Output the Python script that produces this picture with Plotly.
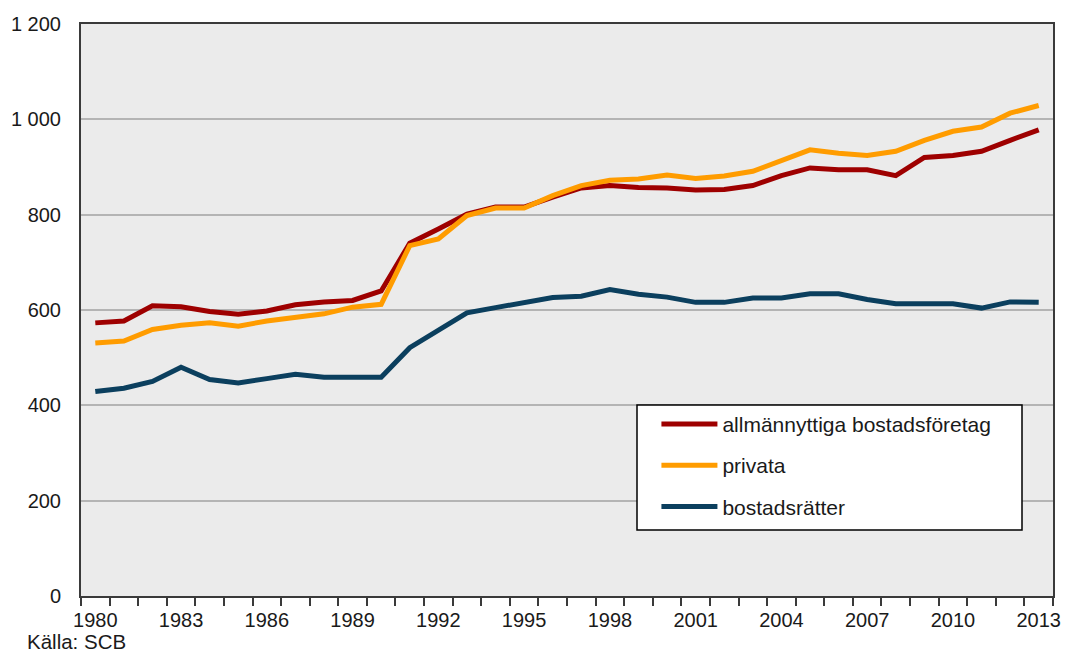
import plotly.graph_objects as go

years = list(range(1980, 2014))
allmannyttiga = [573, 577, 609, 607, 597, 591, 598, 611, 617, 620, 640,
                 740, 770, 801, 816, 816, 837, 856, 861, 857, 856, 852,
                 853, 861, 882, 898, 894, 894, 882, 920, 924, 933, 956, 978]
privata = [531, 535, 559, 568, 573, 566, 577, 584, 592, 606, 612,
           735, 749, 798, 814, 814, 840, 861, 872, 875, 883, 876,
           881, 891, 914, 936, 929, 924, 933, 956, 975, 984, 1013, 1029]
bostadsratter = [429, 436, 450, 480, 454, 447, 456, 465, 459, 459, 459,
                 521, 558, 594, 605, 616, 626, 629, 643, 633, 627, 616,
                 616, 625, 625, 634, 634, 622, 613, 613, 613, 604, 617, 616]
names = ["allmännyttiga bostadsföretag", "privata", "bostadsrätter"]
colors = ["#9E0000", "#FF9C00", "#0B3F5E"]
xtick_years = list(range(1980, 2014, 3))
ytick_vals = [0, 200, 400, 600, 800, 1000, 1200]
ytick_text = ["0", "200", "400", "600", "800", "1 000", "1 200"]

FONT = "Liberation Sans, Arial, sans-serif"
fig = go.Figure()
for i, (n, s, c) in enumerate(zip(names, [allmannyttiga, privata, bostadsratter], colors)):
    fig.add_trace(go.Scatter(x=years, y=s, name=n, mode="lines",
                             line=dict(color=c, width=5),
                             legendgroup=f"g{i}"))

# page has an 8px body margin; plot area in page: x 81..1053, y 24..596
fig.update_layout(
    width=1063, height=642,
    margin=dict(l=73, r=18, t=16, b=54, autoexpand=False),
    paper_bgcolor="white", plot_bgcolor="#EBEBEB",
    font=dict(family=FONT, size=20, color="#1a1a1a"),
    showlegend=True,
    legend=dict(x=0.592, y=0.336, xanchor="left", yanchor="top",
                bgcolor="rgba(0,0,0,0)", borderwidth=0, itemwidth=56,
                tracegroupgap=11, traceorder="grouped",
                font=dict(size=21, family=FONT, color="#1a1a1a")),
    shapes=[dict(type="rect", xref="paper", yref="paper",
                 x0=(637 - 81) / 972, x1=(1022 - 81) / 972,
                 y0=(596 - 530) / 572, y1=(596 - 405) / 572,
                 fillcolor="white", line=dict(color="black", width=1.5),
                 layer="above")],
    annotations=[dict(text="Källa: SCB", xref="paper", yref="paper",
                      x=-0.0576, y=-0.0787, xanchor="left", yanchor="middle",
                      showarrow=False, font=dict(size=20.5, family=FONT, color="#1a1a1a"))],
)
fig.update_xaxes(range=[1979.5, 2013.5], tickvals=xtick_years,
                 ticktext=[str(y) for y in xtick_years], ticks="",
                 ticklabelstandoff=5, automargin=False,
                 showgrid=False, zeroline=False,
                 showline=True, linecolor="#3a3a3a", linewidth=2, mirror=True,
                 minor=dict(tick0=1979.5, dtick=1, ticks="outside", ticklen=8,
                            tickcolor="#3a3a3a", tickwidth=2, showgrid=False))
fig.update_yaxes(range=[0, 1200], tickvals=ytick_vals, ticktext=ytick_text,
                 ticks="", ticklabelstandoff=14, automargin=False,
                 showgrid=True, gridcolor="#B4B4B4", gridwidth=1.5,
                 zeroline=False,
                 showline=True, linecolor="#3a3a3a", linewidth=2, mirror=True)

fig.write_html("out.html")
